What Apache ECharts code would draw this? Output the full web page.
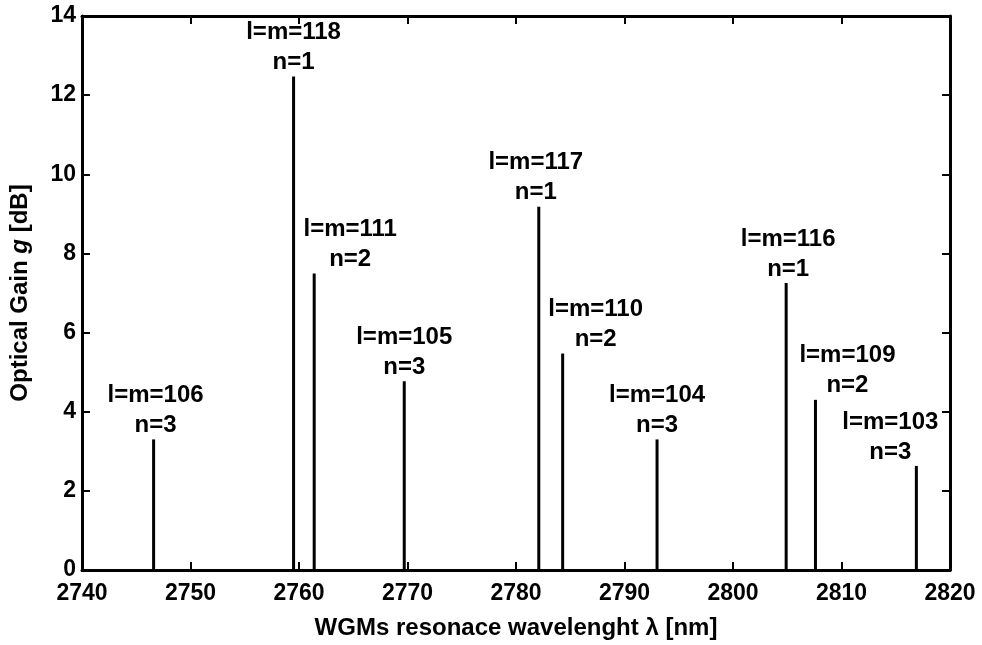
<!DOCTYPE html>
<html>
<head>
<meta charset="utf-8">
<script src="https://cdn.jsdelivr.net/npm/echarts@6/dist/echarts.min.js"></script>
<style>
  html, body { margin: 0; padding: 0; background: #fff; }
  #chart { width: 982px; height: 645px; }
</style>
</head>
<body>
<div id="chart"></div>
<script>
// resonance wavelengths (nm) and optical gain (dB)
var wavelengths = [2746.6, 2759.5, 2761.4, 2769.7, 2782.1, 2784.3, 2793.0, 2804.9, 2807.6, 2816.9];
var gains = [3.3, 12.47, 7.49, 4.77, 9.18, 5.47, 3.3, 7.25, 4.3, 2.63];
var lmIndex = [106, 118, 111, 105, 117, 110, 104, 116, 109, 103];
var nIndex = [3, 1, 2, 3, 1, 2, 3, 1, 2, 3];
var xTicks = [2740, 2750, 2760, 2770, 2780, 2790, 2800, 2810, 2820];
var yTicks = [0, 2, 4, 6, 8, 10, 12, 14];

// horizontal shift of each label relative to its line (px)
var labelShift = [2, 0, 36, 0, -3, 33, 0, 2, 32, -26];

var font = '"Liberation Sans", Arial, sans-serif';
var points = wavelengths.map(function (w, i) { return [w, gains[i]]; });

var myChart = echarts.init(document.getElementById('chart'));

var axisLine = { show: true, onZero: false, lineStyle: { color: '#000', width: 3 } };
var tick = { show: true, inside: true, length: 8, lineStyle: { color: '#000', width: 2 } };
var tickLabel = { color: '#000', fontFamily: font, fontWeight: 'bold', fontSize: 23 };

var option = {
    backgroundColor: '#fff',
    animation: false,
    grid: { left: 82, right: 32, top: 16, bottom: 72 },
    xAxis: [{
        type: 'value',
        min: xTicks[0],
        max: xTicks[xTicks.length - 1],
        interval: 10,
        name: 'WGMs resonace wavelenght λ [nm]',
        nameLocation: 'middle',
        nameGap: 46,
        nameTextStyle: { color: '#000', fontFamily: font, fontWeight: 'bold', fontSize: 24 },
        axisLine: axisLine,
        axisTick: tick,
        splitLine: { show: false },
        axisLabel: Object.assign({ margin: 12, formatter: function (v) { return String(v); } }, tickLabel)
    }, {
        type: 'value',
        position: 'top',
        min: xTicks[0],
        max: xTicks[xTicks.length - 1],
        interval: 10,
        axisLine: axisLine,
        axisTick: tick,
        splitLine: { show: false },
        axisLabel: { show: false }
    }],
    yAxis: [{
        type: 'value',
        min: yTicks[0],
        max: yTicks[yTicks.length - 1],
        interval: 2,
        name: '{b|Optical Gain }{i|g}{b| [dB]}',
        nameLocation: 'middle',
        nameGap: 50,
        nameTextStyle: {
            rich: {
                b: { color: '#000', fontFamily: font, fontWeight: 'bold', fontSize: 24 },
                i: { color: '#000', fontFamily: font, fontWeight: 'bold', fontStyle: 'italic', fontSize: 24 }
            }
        },
        axisLine: axisLine,
        axisTick: tick,
        splitLine: { show: false },
        axisLabel: Object.assign({ margin: 6 }, tickLabel)
    }, {
        type: 'value',
        position: 'right',
        min: yTicks[0],
        max: yTicks[yTicks.length - 1],
        interval: 2,
        axisLine: axisLine,
        axisTick: tick,
        splitLine: { show: false },
        axisLabel: { show: false }
    }],
    series: [{
        type: 'custom',
        xAxisIndex: 0,
        yAxisIndex: 0,
        data: points,
        renderItem: function (params, api) {
            var i = params.dataIndex;
            var top = api.coord([api.value(0), api.value(1)]);
            var base = api.coord([api.value(0), 0]);
            return {
                type: 'group',
                children: [{
                    type: 'line',
                    shape: { x1: base[0], y1: base[1], x2: top[0], y2: top[1] },
                    style: { stroke: '#000', lineWidth: 3 }
                }, {
                    type: 'text',
                    x: top[0] + labelShift[i],
                    y: top[1] + 1,
                    style: {
                        text: 'l=m=' + lmIndex[i] + '\nn=' + nIndex[i],
                        font: 'bold 24px ' + font,
                        fill: '#000',
                        align: 'center',
                        verticalAlign: 'bottom',
                        lineHeight: 30
                    }
                }]
            };
        }
    }]
};
myChart.setOption(option);
</script>
</body>
</html>
